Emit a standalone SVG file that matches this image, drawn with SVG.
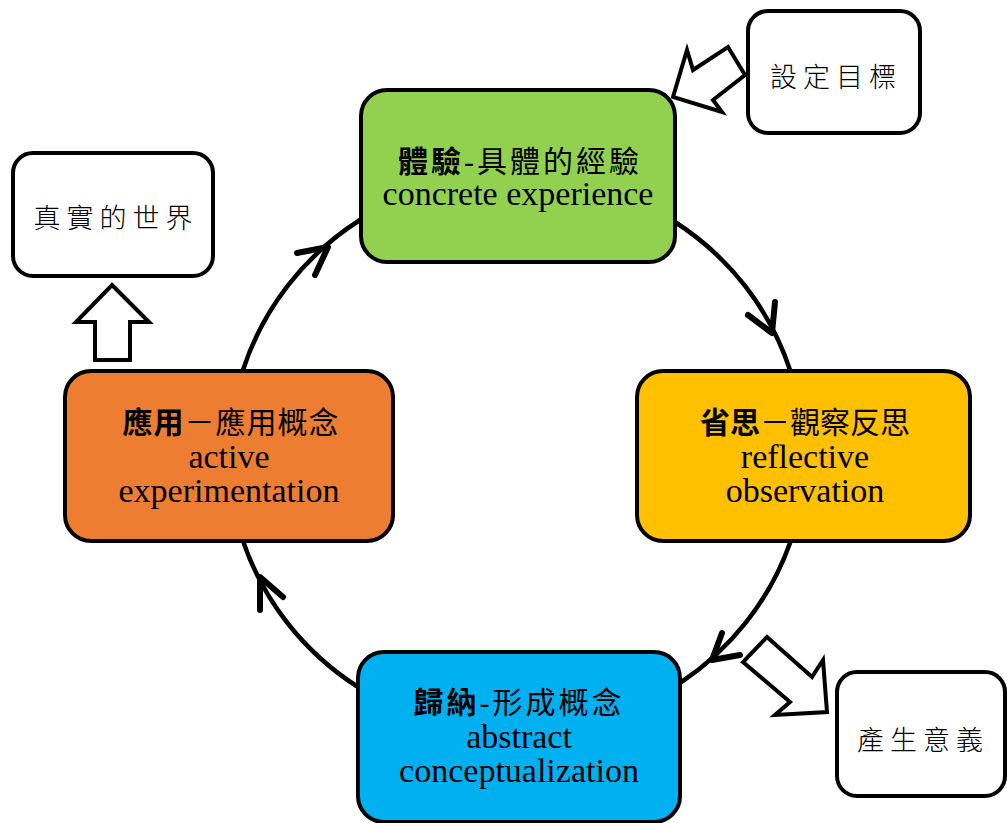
<svg xmlns="http://www.w3.org/2000/svg" width="1007" height="823" viewBox="0 0 1007 823">
<style>
.box{stroke:#000;stroke-width:4}
.zh{font-family:"Liberation Serif","Noto Sans CJK TC",serif;font-size:30px;fill:#000;text-anchor:middle}
.en{font-family:"Liberation Serif","Noto Sans CJK TC",serif;font-size:34px;fill:#000;text-anchor:middle}
.side{font-family:"Noto Sans CJK TC",sans-serif;font-size:27px;fill:#000;text-anchor:middle;letter-spacing:6px;font-weight:300}
.b{font-weight:bold}
.arc{fill:none;stroke:#000;stroke-width:4.5;stroke-linecap:round}
.head{fill:none;stroke:#000;stroke-width:6;stroke-linecap:round;stroke-linejoin:round}
.blk{fill:#fff;stroke:#000;stroke-width:4;stroke-linejoin:miter}
</style>
<rect width="1007" height="823" fill="#fff"/>
<g id="connectors">
<path class="arc" d="M243,370 A287,280 0 0 1 360,220"/>
<path class="arc" d="M675,222 A287,280 0 0 1 790,370"/>
<path class="arc" d="M790,543 A287,280 0 0 1 680,683"/>
<path class="arc" d="M358,687 A287,280 0 0 1 243,541"/>
<polyline class="head" points="297,253 328,247 315,275"/>
<polyline class="head" points="748,315 772,333 775,302"/>
<polyline class="head" points="722,633 712,660 740,655"/>
<polyline class="head" points="260,610 260,577 283,597"/>
<polygon class="blk" points="673,97 687,50 693,70 728,47 745,75 713,100 722,112"/>
<polygon class="blk" points="112,285 149,322 130,322 130,360 95,360 95,322 76,322"/>
<polygon class="blk" points="767,637 812,677 823,660 827,712 775,715 790,702 743,662"/>
</g>
<g id="concrete">
<rect class="box" x="361" y="90" width="314" height="172" rx="26" fill="#92D050"/>
<text class="zh" x="520" y="172" letter-spacing="3"><tspan class="b">體驗</tspan>-具體的經驗</text>
<text class="en" x="518" y="205">concrete experience</text>
</g>
<g id="reflective">
<rect class="box" x="637" y="371" width="333" height="170" rx="26" fill="#FFC000"/>
<text class="zh" x="805" y="433"><tspan class="b">省思</tspan>－觀察反思</text>
<text class="en" x="805" y="468">reflective</text>
<text class="en" x="805" y="502">observation</text>
</g>
<g id="abstract">
<rect class="box" x="358" y="652" width="322" height="170" rx="26" fill="#00B0F0"/>
<text class="zh" x="519" y="713" letter-spacing="3"><tspan class="b">歸納</tspan>-形成概念</text>
<text class="en" x="519" y="748">abstract</text>
<text class="en" x="519" y="782">conceptualization</text>
</g>
<g id="active">
<rect class="box" x="65" y="371" width="328" height="170" rx="26" fill="#ED7D31"/>
<text class="zh" x="231" y="433" letter-spacing="1"><tspan class="b">應用</tspan>－應用概念</text>
<text class="en" x="229" y="468">active</text>
<text class="en" x="229" y="502">experimentation</text>
</g>
<g id="goal">
<rect class="box" x="748" y="11" width="172" height="122" rx="20" fill="#fff"/>
<text class="side" x="836" y="87">設定目標</text>
</g>
<g id="world">
<rect class="box" x="13" y="153" width="200" height="123" rx="20" fill="#fff"/>
<text class="side" x="116" y="228">真實的世界</text>
</g>
<g id="meaning">
<rect class="box" x="837" y="672" width="168" height="124" rx="20" fill="#fff"/>
<text class="side" x="923" y="750">產生意義</text>
</g>
</svg>
